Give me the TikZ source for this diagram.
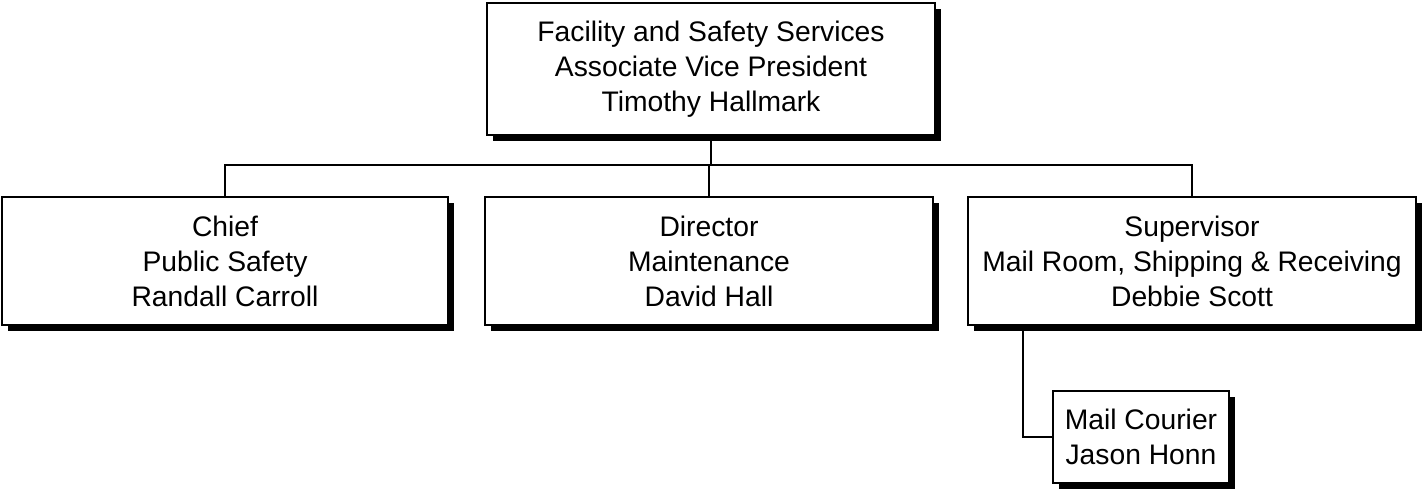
\documentclass[tikz,border=0pt]{standalone}
\usepackage{fontspec}
\setmainfont{Liberation Sans}
\usetikzlibrary{shadows,positioning}
\tikzset{>=latex}
\tikzset{
  orgbox/.style={draw, fill=white, line width=1.6pt, align=center,
    inner sep=2pt, font=\fontsize{21.2}{26.25}\selectfont,
    general shadow={fill=black, shadow xshift=4.8pt, shadow yshift=-4.8pt}},
  bigbox/.style={orgbox, minimum width=336pt, minimum height=96pt},
  link/.style={line width=1.6pt}
}
\begin{document}
\begin{tikzpicture}[x=0.75pt,y=-0.75pt]
  \useasboundingbox (0,0) rectangle (1423,490);
  \node[bigbox, minimum height=99pt] (avp) at (711,69)
    {Facility and Safety Services\\Associate Vice President\\Timothy Hallmark};
  \node[bigbox, minimum width=334.5pt] (chief) at (225,261)
    {Chief\\Public Safety\\Randall Carroll};
  \node[bigbox] (maint) at (709,261)
    {Director\\Maintenance\\David Hall};
  \node[bigbox] (mail) at (1192,261)
    {Supervisor\\Mail Room, Shipping \& Receiving\\Debbie Scott};
  \node[orgbox, minimum width=132pt, minimum height=69pt] (courier) at (1141,437)
    {Mail Courier\\Jason Honn};
  % bus line
  \coordinate (bus) at (0,165);
  \draw[link] (chief.north) -- (chief.north |- bus) -- (mail.north |- bus) -- (mail.north);
  \draw[link] (avp.south) -- (avp.south |- bus);
  \draw[link] (maint.north) -- (maint.north |- bus);
  \draw[link] ([xshift=42pt]mail.south west) |- (courier.west);
\end{tikzpicture}
\end{document}
